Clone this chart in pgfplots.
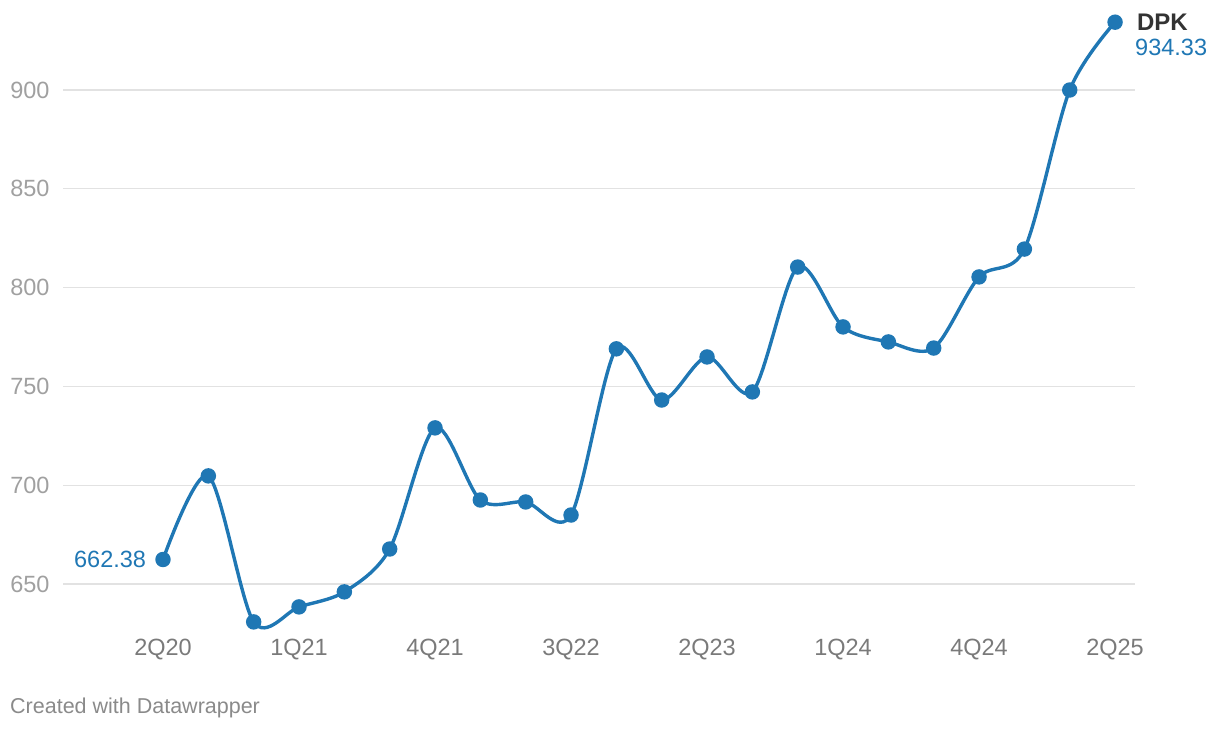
\documentclass[border=0pt]{standalone}
\usepackage{fontspec}
\setmainfont{Liberation Sans}
\usepackage{pgfplots}
\pgfplotsset{compat=1.18}
\definecolor{dpk}{HTML}{1F77B4}
\definecolor{ytick}{HTML}{A0A0A0}
\definecolor{xtick}{HTML}{7A7A7A}
\definecolor{grid}{HTML}{E2E2E2}
\definecolor{foot}{HTML}{8A8A8A}
\begin{document}
\begin{tikzpicture}
\begin{axis}[
  name=ax, anchor=south west, at={(0pt,0pt)},
  scale only axis, width=1072pt, height=630.3pt,
  xmin=-2.206, xmax=21.44, ymin=626, ymax=945,
  clip=false,
  axis line style={draw=none},
  major tick length=0pt,
  xtick={0,3,6,9,12,15,18,21},
  xticklabels={2Q20,1Q21,4Q21,3Q22,2Q23,1Q24,4Q24,2Q25},
  ytick={650,700,750,800,850,900},
  ymajorgrids, grid style={color=grid, line width=1.3pt},
  /pgf/number format/assume math mode=true,
  yticklabel style={font=\fontsize{23.5}{26}\selectfont, text=ytick, xshift=-10pt},
  xticklabel style={font=\fontsize{23.5}{26}\selectfont, text=xtick, yshift=-4pt},
]
\addplot[dpk, line width=3.4pt, smooth, tension=0.5, mark=*, mark size=6pt, mark options={fill=dpk, draw=none}] coordinates {
(0,662.38) (1,704.7) (2,630.8) (3,638.4) (4,646.0) (5,667.7) (6,729.0)
(7,692.5) (8,691.5) (9,684.9) (10,769.0) (11,743.1) (12,764.9) (13,747.2)
(14,810.4) (15,780.1) (16,772.5) (17,769.4) (18,805.4) (19,819.5) (20,900.0) (21,934.33)
};
\node[anchor=east, text=dpk, font=\fontsize{23.5}{26}\selectfont, inner sep=0pt] at (axis cs:-0.37,662.38) {662.38};
\node[anchor=west, text=black!80, font=\fontsize{24}{26}\selectfont\bfseries, inner sep=0pt] at (axis cs:21.48,934.33) {DPK};
\node[anchor=west, text=dpk, font=\fontsize{23.5}{26}\selectfont, inner sep=0pt] at (axis cs:21.44,921.5) {934.33};
\end{axis}
\path[use as bounding box] (-63pt,-98.6pt) rectangle (1157pt,631.4pt);
\node[anchor=west, text=foot, font=\fontsize{21.5}{24}\selectfont, inner sep=0pt] at (-53pt,-76.6pt) {Created with Datawrapper};
\end{tikzpicture}
\end{document}
